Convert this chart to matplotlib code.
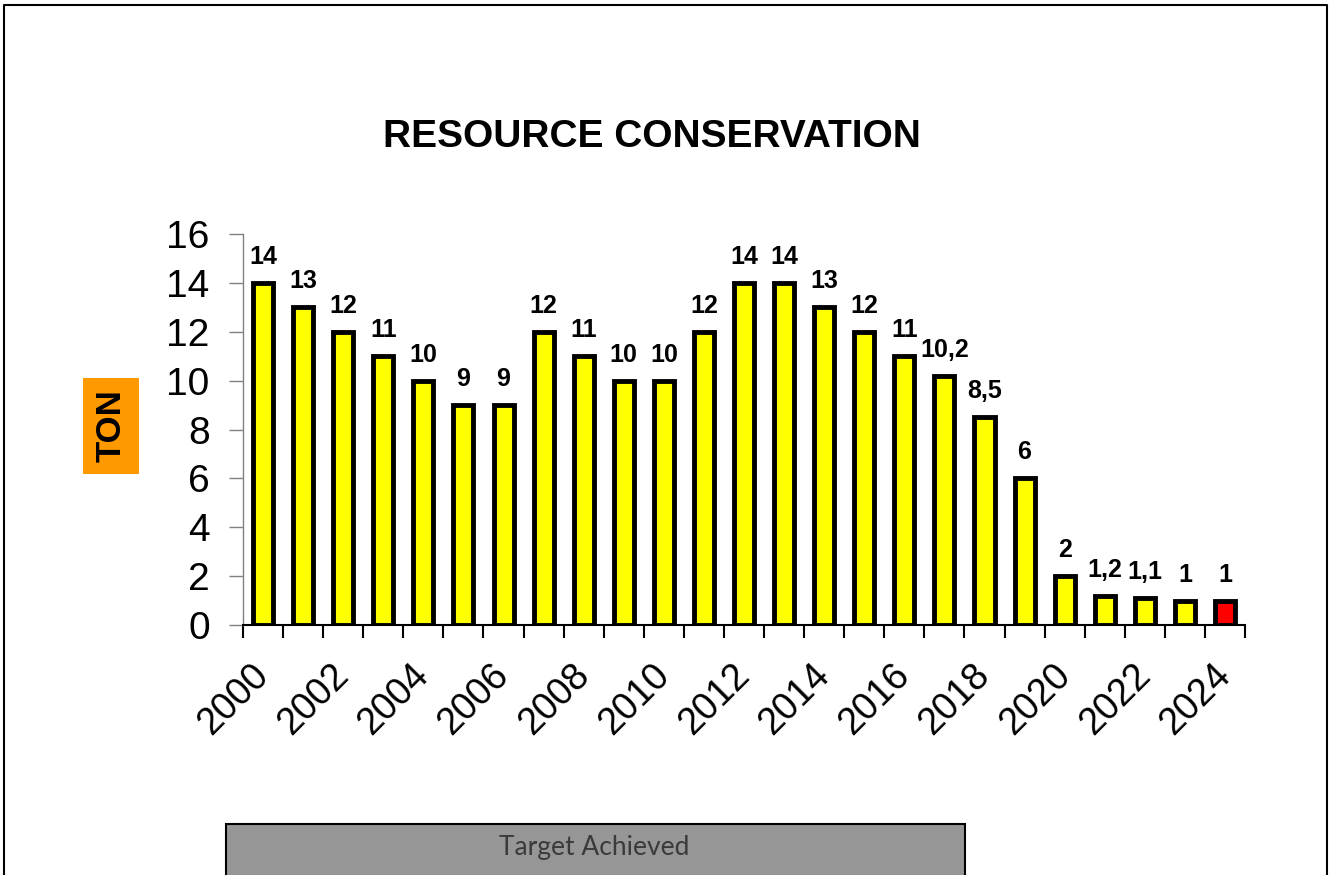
import numpy as np
import matplotlib.pyplot as plt
from matplotlib.patches import Rectangle
from matplotlib.lines import Line2D

plt.rcParams['font.family'] = ['Liberation Sans', 'DejaVu Sans']

years = list(range(2000, 2025))
values = [14, 13, 12, 11, 10, 9, 9, 12, 11, 10, 10, 12, 14, 14, 13, 12, 11, 10.2, 8.5, 6, 2, 1.2, 1.1, 1, 1]
labels = ["14", "13", "12", "11", "10", "9", "9", "12", "11", "10", "10", "12", "14", "14",
          "13", "12", "11", "10,2", "8,5", "6", "2", "1,2", "1,1", "1", "1"]
colors = ["#FFFF00"] * 24 + ["#FF0000"]

W, H = 1332, 875
fig = plt.figure(figsize=(W / 100, H / 100), dpi=100)
ax = fig.add_axes([243 / W, 1 - 625 / H, (1245 - 243) / W, (625 - 234) / H])

x = np.arange(len(years))
ax.bar(x, values, width=0.5, color=colors, edgecolor="black", linewidth=3.5)
for xi, v, lab in zip(x, values, labels):
    ax.annotate(lab, (xi, v), xytext=(0, 10), textcoords="offset points",
                ha="center", va="bottom", fontsize=18, fontweight="bold")

ax.set_xlim(-0.5, len(years) - 0.5)
ax.set_ylim(0, 16)
ax.set_yticks(range(0, 17, 2))
ax.tick_params(axis="y", labelsize=28, length=10, width=1, color="#808080", pad=14)

ax.set_xticks(x[::2])
ax.set_xticklabels([str(y) for y in years[::2]], rotation=45, ha="right", va="center",
                   rotation_mode="anchor", fontsize=27)
ax.tick_params(axis="x", length=0, pad=32)
ax.set_xticks(np.arange(-0.5, len(years), 1), minor=True)
ax.tick_params(axis="x", which="minor", length=9, width=1.5, color="black")

for s in ["top", "right"]:
    ax.spines[s].set_visible(False)
ax.spines["left"].set_color("#808080")
ax.spines["left"].set_linewidth(1)
ax.spines["bottom"].set_linewidth(1.5)

fig.text(652 / W, 1 - 137 / H, "RESOURCE CONSERVATION", ha="center", va="center",
         fontsize=28, fontweight="bold")

fig.text(111 / W, 1 - 426 / H, "TON", rotation=90, ha="center", va="center",
         fontsize=25, fontweight="bold",
         bbox=dict(boxstyle="square,pad=0.33", facecolor="#FF9900", edgecolor="none"))

# gray box at bottom
fig.patches.append(Rectangle((226 / W, -0.05), (965 - 226) / W, 0.05 + (875 - 824) / H,
                             transform=fig.transFigure, facecolor="#969696",
                             edgecolor="black", linewidth=1.5))
fig.text(594 / W, 1 - 848 / H, "Target Achieved", ha="center", va="center",
         fontsize=19, color="#3a3a3a", family=["Lato", "DejaVu Sans"])

# outer frame (open at the bottom)
fig.lines.append(Line2D([4 / W, 4 / W, 1327 / W, 1327 / W], [0, 1 - 5 / H, 1 - 5 / H, 0],
                        transform=fig.transFigure, color="black", linewidth=1.5))

fig.savefig("out.png", dpi=100)
